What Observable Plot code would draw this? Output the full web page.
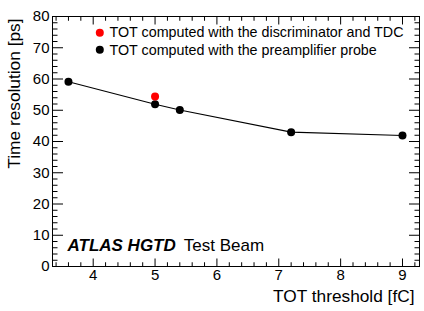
<!DOCTYPE html>
<html>
<head>
<meta charset="utf-8">
<script src="https://cdn.jsdelivr.net/npm/d3@7"></script>
<script src="https://cdn.jsdelivr.net/npm/@observablehq/plot@0.6"></script>
<style>
  html, body { margin: 0; padding: 0; background: #fff; }
  #chart { width: 424px; height: 311px; }
</style>
</head>
<body>
<div id="chart"></div>
<script>
// Data: TOT threshold [fC] vs time resolution [ps]
const probeThreshold = [3.6, 5.0, 5.4, 7.2, 9.0];
const probeResolution = [59.1, 51.9, 50.1, 43.0, 41.9];
const tdcThreshold = [5.0];
const tdcResolution = [54.4];

const legendLabels = [
  "TOT computed with the discriminator and TDC",
  "TOT computed with the preamplifier probe"
];
const legendColors = ["#ff0000", "#000000"];

const xMajorTicks = [4, 5, 6, 7, 8, 9];
const yMajorTicks = [0, 10, 20, 30, 40, 50, 60, 70, 80];
const xMinorTicks = d3.range(3.4, 9.21, 0.2).map(v => +v.toFixed(1)).filter(v => !xMajorTicks.includes(v));
const yMinorTicks = d3.range(0, 80.1, 2).filter(v => !yMajorTicks.includes(v));

const xTitle = "TOT threshold [fC]";
const yTitle = "Time resolution [ps]";

const probe = probeThreshold.map((x, i) => ({x, y: probeResolution[i]}));
const tdc = tdcThreshold.map((x, i) => ({x, y: tdcResolution[i]}));

const font = "'Liberation Sans', Arial, Helvetica, sans-serif";

const legendMarks = legendLabels.flatMap((label, i) => [
  Plot.dot([label], {frameAnchor: "top-left", dx: 47.3, dy: 16.3 + 17 * i, fill: legendColors[i], r: 4}),
  Plot.text([label], {frameAnchor: "top-left", text: d => d, textAnchor: "start", lineAnchor: "middle", dx: 57, dy: 16.2 + 17.6 * i, fontSize: 14.3})
]);

const chart = Plot.plot({
  width: 424,
  height: 311,
  marginLeft: 52,
  marginTop: 16,
  marginRight: 5,
  marginBottom: 45,
  style: {fontFamily: font, fontSize: "15px", color: "black", background: "white"},
  x: {domain: [3.342, 9.275]},
  y: {domain: [0, 80]},
  marks: [
    Plot.frame({stroke: "black", strokeWidth: 1}),
    // inward ticks, bottom & top
    Plot.axisX({anchor: "bottom", ticks: xMajorTicks, tickSize: -7.5, text: null, label: null}),
    Plot.axisX({anchor: "bottom", ticks: xMinorTicks, tickSize: -3.75, text: null, label: null}),
    Plot.axisX({anchor: "top", ticks: xMajorTicks, tickSize: -7.5, text: null, label: null}),
    Plot.axisX({anchor: "top", ticks: xMinorTicks, tickSize: -3.75, text: null, label: null}),
    Plot.axisY({anchor: "left", ticks: yMajorTicks, tickSize: -11, text: null, label: null}),
    Plot.axisY({anchor: "left", ticks: yMinorTicks, tickSize: -5.5, text: null, label: null}),
    Plot.axisY({anchor: "right", ticks: yMajorTicks, tickSize: -11, text: null, label: null}),
    Plot.axisY({anchor: "right", ticks: yMinorTicks, tickSize: -5.5, text: null, label: null}),
    // tick labels
    Plot.axisX({anchor: "bottom", ticks: xMajorTicks, tickSize: 0, tickPadding: 3, label: null, fontSize: 15, tickFormat: d => String(d)}),
    Plot.axisY({anchor: "left", ticks: yMajorTicks, tickSize: 0, tickPadding: 3, label: null, fontSize: 15, tickFormat: d => String(d)}),
    // axis titles
    Plot.text([xTitle], {frameAnchor: "bottom-right", text: d => d, textAnchor: "end", lineAnchor: "middle", dx: -5, dy: 30, fontSize: 17.3}),
    Plot.text([yTitle], {frameAnchor: "top-left", text: d => d, textAnchor: "end", lineAnchor: "top", rotate: -90, dx: -45, dy: 2, fontSize: 17.3}),
    // data
    Plot.line(probe, {x: "x", y: "y", stroke: "black", strokeWidth: 1.1}),
    Plot.dot(probe, {x: "x", y: "y", r: 4, fill: "black"}),
    Plot.dot(tdc, {x: "x", y: "y", r: 4, fill: "#ff0000"}),
    // legend
    ...legendMarks,
    // ATLAS label
    Plot.text(["ATLAS HGTD"], {frameAnchor: "bottom-left", text: d => d, textAnchor: "start", lineAnchor: "middle", dx: 15, dy: -20.7, fontSize: 17, fontWeight: "bold", fontStyle: "italic"}),
    Plot.text(["Test Beam"], {frameAnchor: "bottom-left", text: d => d, textAnchor: "start", lineAnchor: "middle", dx: 131.3, dy: -20.7, fontSize: 17})
  ]
});
document.getElementById("chart").appendChild(chart);
</script>
</body>
</html>
